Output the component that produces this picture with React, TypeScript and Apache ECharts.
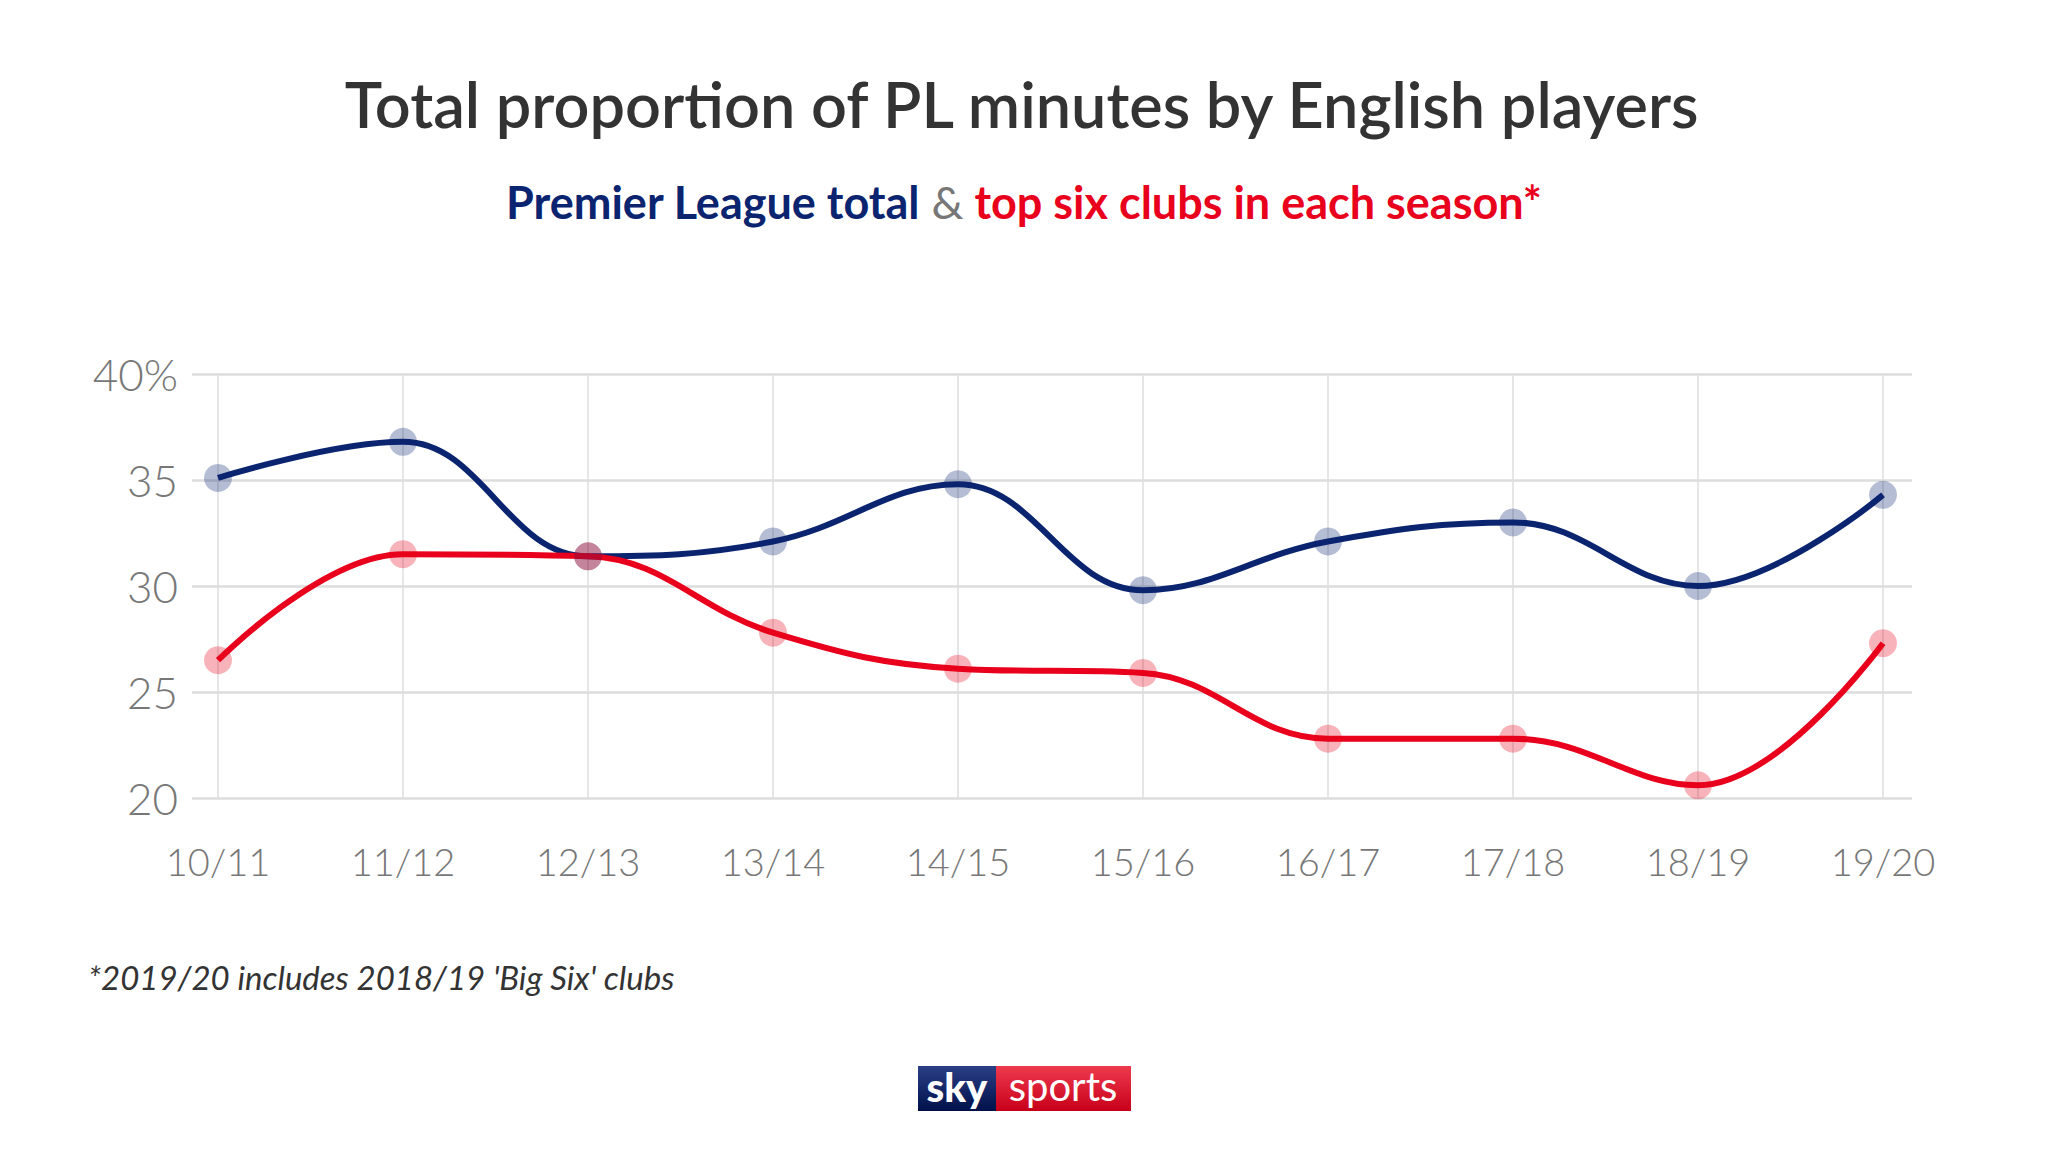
import React, { useEffect, useRef } from "react";
import * as echarts from "echarts";

const seasons = ["10/11", "11/12", "12/13", "13/14", "14/15", "15/16", "16/17", "17/18", "18/19", "19/20"];
const plTotal = [35.1, 36.8, 31.4, 32.1, 34.8, 29.8, 32.1, 33.0, 30.0, 34.3];
const topSix = [26.5, 31.5, 31.4, 27.8, 26.1, 25.9, 22.8, 22.8, 20.6, 27.3];
const yTicks = [20, 25, 30, 35, 40];

const NAVY = "#0b2470";
const RED = "#e8001c";
const GREY = "#777777";

export default function App() {
  const ref = useRef<HTMLDivElement>(null);
  useEffect(() => {
    if (!ref.current) return;
    const chart = echarts.init(ref.current, null, { renderer: "svg" });
    const top = 374;
    const bottom = 1152 - 798;
    chart.setOption({
      animation: false,
      backgroundColor: "#ffffff",
      grid: [
        { left: 192, right: 2048 - 1912, top, bottom },
        { left: 218, right: 2048 - 1883, top, bottom },
      ],
      xAxis: [
        { type: "category", gridIndex: 0, show: false, data: seasons, boundaryGap: false },
        {
          type: "category",
          gridIndex: 1,
          data: seasons,
          boundaryGap: false,
          axisLine: { show: false },
          axisTick: { show: false },
          axisLabel: { color: GREY, fontFamily: "Lato", fontWeight: 300, fontSize: 38, margin: 44 },
          splitLine: { show: true, lineStyle: { color: "#dedede", width: 1.5 } },
        },
      ],
      yAxis: [
        {
          type: "value",
          gridIndex: 0,
          min: yTicks[0],
          max: yTicks[yTicks.length - 1],
          interval: 5,
          axisLine: { show: false },
          axisTick: { show: false },
          axisLabel: {
            color: GREY,
            fontFamily: "Lato",
            fontWeight: 300,
            fontSize: 44,
            margin: 14,
            formatter: (v: number) => (v === 40 ? "40%" : String(v)),
          },
          splitLine: { show: true, lineStyle: { color: "#dddddd", width: 2.5 } },
        },
        {
          type: "value",
          gridIndex: 1,
          min: yTicks[0],
          max: yTicks[yTicks.length - 1],
          interval: 5,
          show: false,
          splitLine: { show: false },
        },
      ],
      series: [
        {
          name: "Premier League total",
          type: "line",
          xAxisIndex: 1,
          yAxisIndex: 1,
          data: plTotal,
          smooth: 0.4,
          symbol: "circle",
          symbolSize: 28,
          lineStyle: { color: NAVY, width: 6 },
          itemStyle: { color: "rgba(11,36,112,0.3)" },
        },
        {
          name: "top six clubs",
          type: "line",
          xAxisIndex: 1,
          yAxisIndex: 1,
          data: topSix,
          smooth: 0.4,
          symbol: "circle",
          symbolSize: 28,
          lineStyle: { color: RED, width: 6 },
          itemStyle: { color: "rgba(232,0,28,0.3)" },
        },
      ],
      graphic: [
        {
          type: "text",
          left: "center",
          top: 72,
          style: {
            text: "Total proportion of PL minutes by English players",
            fill: "#333333",
            font: "600 63px Lato",
          },
        },
        {
          type: "text",
          left: "center",
          top: 179,
          style: {
            text: "{a|Premier League total }{b|&}{c| top six clubs in each season*}",
            rich: {
              a: { fill: NAVY, font: "700 45px Lato" },
              b: { fill: "#777777", font: "400 45px Lato" },
              c: { fill: RED, font: "700 45px Lato" },
            },
          },
        },
        {
          type: "text",
          left: 88,
          top: 960,
          style: {
            text: "*2019/20 includes 2018/19 'Big Six' clubs",
            fill: "#333333",
            font: "italic 400 33px Lato",
          },
        },
        {
          type: "group",
          left: 918,
          top: 1066,
          children: [
            {
              type: "rect",
              shape: { x: 0, y: 0, width: 78, height: 45 },
              style: {
                fill: new echarts.graphic.LinearGradient(0, 0, 0, 1, [
                  { offset: 0, color: "#2b3f86" },
                  { offset: 1, color: "#00114a" },
                ]),
              },
            },
            {
              type: "rect",
              shape: { x: 78, y: 0, width: 135, height: 45 },
              style: {
                fill: new echarts.graphic.LinearGradient(0, 0, 0, 1, [
                  { offset: 0, color: "#ee3a4e" },
                  { offset: 1, color: "#c8001a" },
                ]),
              },
            },
            {
              type: "text",
              x: 39,
              y: 21,
              style: { text: "sky", fill: "#ffffff", font: "900 40px Lato", align: "center", verticalAlign: "middle" },
            },
            {
              type: "text",
              x: 145,
              y: 20,
              style: { text: "sports", fill: "#ffffff", font: "400 40px Lato", align: "center", verticalAlign: "middle" },
            },
          ],
        },
      ],
    });
    return () => chart.dispose();
  }, []);
  return <div ref={ref} style={{ position: "fixed", left: 0, top: 0, width: 2048, height: 1152 }} />;
}
